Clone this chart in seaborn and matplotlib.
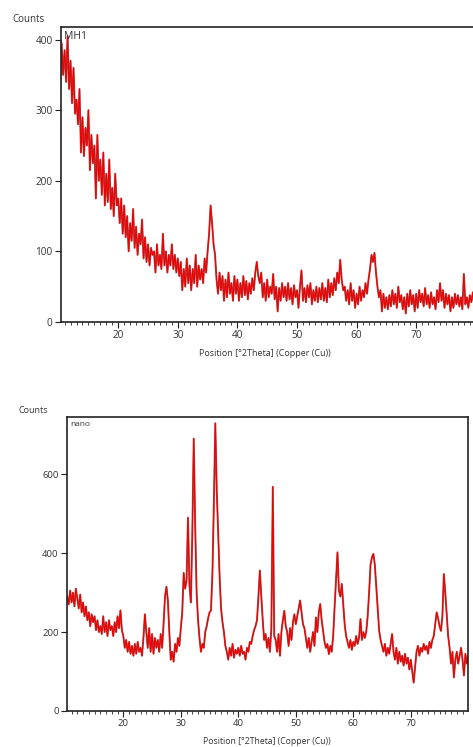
import numpy as np
import pandas as pd
import seaborn as sns
import matplotlib.pyplot as plt
from matplotlib.ticker import MultipleLocator

# scan grid: 10.00 .. 80.00 deg 2theta, step 0.25
start_2theta = 10.0
step_2theta = 0.25

mh1_counts = [
    360, 330, 395, 350, 385, 340, 405, 330,   # 10
    370, 310, 360, 295, 315, 280, 330, 240,   # 12
    290, 235, 275, 250, 300, 215, 265, 225,   # 14
    250, 175, 265, 200, 230, 180, 240, 165,   # 16
    210, 170, 230, 160, 190, 150, 210, 165,   # 18
    175, 140, 175, 125, 165, 120, 150, 100,   # 20
    140, 115, 160, 105, 135, 95, 125, 110,    # 22
    145, 90, 120, 85, 110, 80, 105, 95,       # 24
    100, 70, 110, 80, 95, 75, 125, 80,        # 26
    100, 70, 95, 80, 110, 75, 95, 70,         # 28
    90, 65, 85, 45, 75, 50, 90, 55,           # 30
    80, 45, 75, 55, 95, 50, 80, 60,           # 32
    75, 55, 90, 70, 100, 125, 165, 140,       # 34
    110, 95, 60, 40, 70, 45, 65, 30,          # 36
    60, 35, 70, 40, 55, 30, 65, 40,           # 38
    60, 30, 55, 35, 65, 38, 58, 32,           # 40
    55, 40, 62, 45, 70, 85, 65, 55,           # 42
    70, 35, 55, 30, 60, 35, 50, 40,           # 44
    68, 32, 50, 15, 48, 30, 55, 35,           # 46
    50, 30, 55, 32, 48, 25, 52, 35,           # 48
    45, 20, 50, 73, 30, 48, 28, 52,           # 50
    35, 55, 25, 45, 30, 50, 28, 48,           # 52
    32, 55, 30, 48, 28, 60, 35, 55,           # 54
    38, 62, 45, 70, 55, 88, 60, 45,           # 56
    50, 30, 45, 25, 55, 30, 45, 20,           # 58
    40, 25, 50, 30, 45, 35, 55, 40,           # 60
    60, 75, 95, 85, 98, 70, 50, 35,           # 62
    45, 15, 40, 20, 35, 18, 38, 22,           # 64
    45, 25, 40, 20, 50, 28, 38, 18,           # 66
    35, 12, 40, 22, 45, 25, 38, 15,           # 68
    40, 20, 45, 28, 40, 22, 48, 25,           # 70
    38, 20, 42, 25, 35, 18, 45, 28,           # 72
    55, 30, 45, 20, 40, 25, 38, 15,           # 74
    35, 20, 40, 25, 38, 22, 35, 18,           # 76
    68, 25, 35, 20, 38, 28, 42, 25,           # 78
    35,
]

nano_counts = [
    280, 290, 270, 305, 275, 300, 265, 310,   # 10
    285, 260, 295, 250, 275, 240, 265, 230,   # 12
    250, 215, 245, 225, 240, 205, 230, 200,   # 14
    215, 195, 240, 200, 225, 190, 230, 205,   # 16
    215, 190, 225, 200, 240, 210, 255, 205,   # 18
    190, 160, 180, 150, 175, 145, 165, 140,   # 20
    170, 145, 175, 150, 160, 140, 185, 245,   # 22
    200, 160, 210, 150, 195, 145, 185, 160,   # 24
    180, 150, 195, 160, 220, 290, 315, 280,   # 26
    200, 130, 150, 125, 170, 150, 185, 165,   # 28
    210, 250, 350, 310, 330, 490, 320, 275,   # 30
    450, 690, 470, 300, 230, 185, 150, 170,   # 32
    160, 200, 215, 235, 250, 255, 350, 525,   # 34
    729, 560, 450, 340, 260, 225, 200, 165,   # 36
    150, 130, 160, 140, 170, 135, 155, 145,   # 38
    160, 140, 165, 145, 150, 130, 160, 150,   # 40
    175, 170, 190, 205, 215, 230, 290, 356,   # 42
    290, 230, 180, 195, 160, 185, 150, 210,   # 44
    568, 190, 180, 150, 195, 140, 200, 230,   # 46
    254, 215, 200, 165, 210, 180, 225, 245,   # 48
    220, 240, 260, 280, 250, 220, 210, 185,   # 50
    160, 185, 150, 175, 200, 165, 237, 200,   # 52
    250, 271, 230, 203, 175, 160, 170, 144,   # 54
    165, 150, 190, 263, 330, 402, 305, 290,   # 56
    322, 270, 220, 190, 175, 160, 180, 155,   # 58
    175, 165, 190, 170, 185, 233, 180, 200,   # 60
    185, 200, 240, 300, 370, 390, 398, 370,   # 62
    313, 260, 203, 180, 165, 150, 170, 140,   # 64
    160, 145, 170, 195, 150, 130, 160, 120,   # 66
    150, 125, 140, 115, 145, 120, 135, 105,   # 68
    130, 100, 72, 110, 150, 165, 140, 160,    # 70
    150, 170, 155, 165, 145, 175, 160, 180,   # 72
    190, 220, 250, 235, 215, 203, 240, 347,   # 74
    300, 245, 190, 160, 120, 150, 85, 130,    # 76
    150, 120, 140, 160, 130, 90, 145, 120,    # 78
    140,
]

two_theta = start_2theta + step_2theta * np.arange(len(mh1_counts))

df_mh1 = pd.DataFrame({'2theta': two_theta, 'counts': mh1_counts})
df_nano = pd.DataFrame({'2theta': two_theta, 'counts': nano_counts})

sns.set_style('ticks')
plt.rcParams['font.family'] = ['Open Sans', 'DejaVu Sans']

fig = plt.figure(figsize=(4.73, 7.47), dpi=100)
ax1 = fig.add_axes([0.129, 0.569, 0.875, 0.395])
ax2 = fig.add_axes([0.1416, 0.0482, 0.8478, 0.3936])

text_col = '#333333'


def draw_scan(ax, df, xlim, ylim, ymajor, name, name_size, lab_size):
    # dark outline first, bright red on top (looks like the HighScore export)
    sns.lineplot(x='2theta', y='counts', data=df, ax=ax, color='#a85050', linewidth=1.4)
    sns.lineplot(x='2theta', y='counts', data=df, ax=ax, color='#f00000', linewidth=0.8)
    ax.set_xlim(*xlim)
    ax.set_ylim(*ylim)
    ax.set_xlabel('')
    ax.set_ylabel('')
    ax.xaxis.set_major_locator(MultipleLocator(10))
    ax.xaxis.set_minor_locator(MultipleLocator(1))
    ax.yaxis.set_major_locator(MultipleLocator(ymajor))
    ax.tick_params(axis='both', which='major', labelsize=lab_size, colors='#222222',
                   labelcolor=text_col, length=4, width=0.8, pad=2)
    ax.tick_params(axis='x', which='minor', length=2.5, width=0.6, colors='#222222')
    for s in ax.spines.values():
        s.set_color('#222222')
        s.set_linewidth(1.2)
    ax.text(0.008, 0.985, name, transform=ax.transAxes, ha='left', va='top',
            fontsize=name_size, color=text_col)


draw_scan(ax1, df_mh1, (10.4, 79.85), (0, 418), 100, 'MH1', 7.5, 7.2)
draw_scan(ax2, df_nano, (10.2, 79.95), (0, 745), 200, 'nano', 6, 6.8)
ax1.spines['right'].set_visible(False)

fig.text(12 / 473, 1 - 20 / 747, 'Counts', fontsize=7, color=text_col, va='center')
fig.text(18 / 473, 1 - 411 / 747, 'Counts', fontsize=6.5, color=text_col, va='center')
fig.text(265 / 473, 1 - 353 / 747, 'Position [°2Theta] (Copper (Cu))', fontsize=6.5,
         color=text_col, ha='center', va='center')
fig.text(267 / 473, 1 - 741 / 747, 'Position [°2Theta] (Copper (Cu))', fontsize=6.2,
         color=text_col, ha='center', va='center')

plt.savefig('out.png', dpi=100, facecolor='white')
